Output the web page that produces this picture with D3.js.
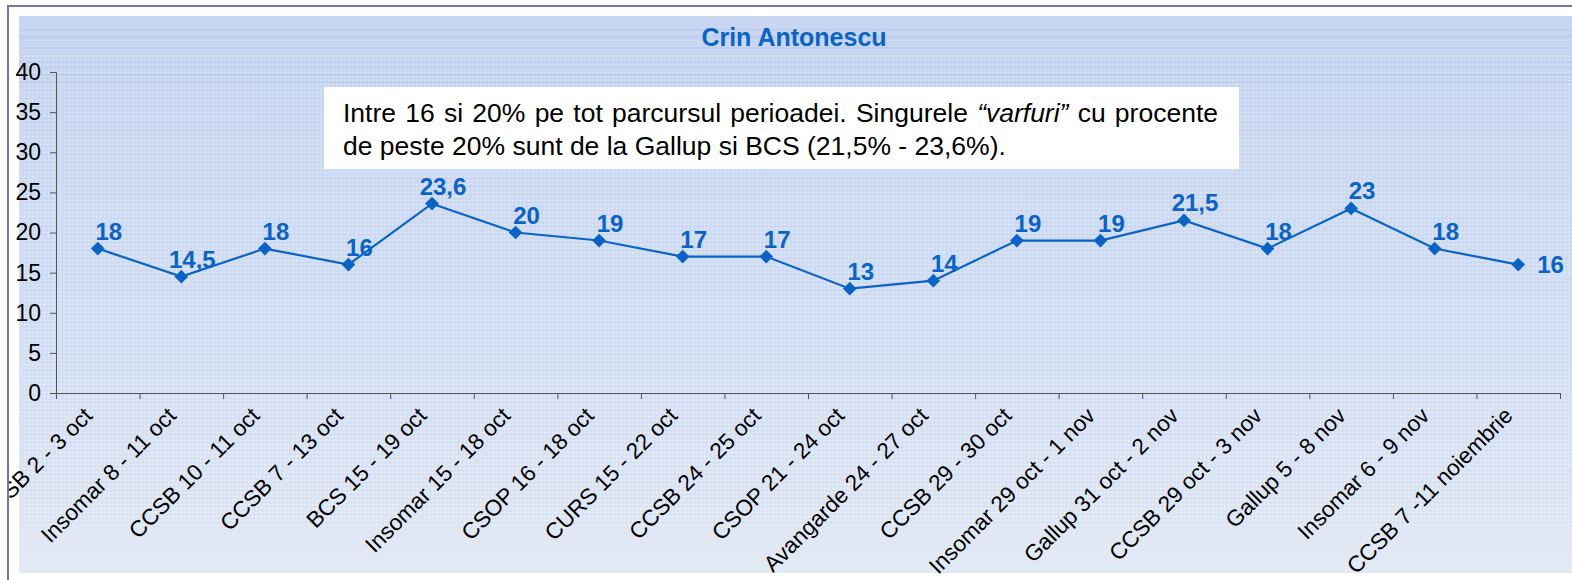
<!DOCTYPE html>
<html>
<head>
<meta charset="utf-8">
<script src="https://cdn.jsdelivr.net/npm/d3@7"></script>
<style>
  body { margin: 0; background: #fff; }
  svg { display: block; font-family: Arial, "Liberation Sans", sans-serif; }
</style>
</head>
<body>
<div id="chart"></div>
<script>
const categories = [
  "CCSB 2 - 3 oct", "Insomar 8 - 11 oct", "CCSB 10 - 11 oct", "CCSB 7 - 13 oct",
  "BCS 15 - 19 oct", "Insomar 15 - 18 oct", "CSOP 16 - 18 oct", "CURS 15 - 22 oct",
  "CCSB 24 - 25 oct", "CSOP 21 - 24 oct", "Avangarde 24 - 27 oct", "CCSB 29 - 30 oct",
  "Insomar 29 oct - 1 nov", "Gallup 31 oct - 2 nov", "CCSB 29 oct - 3 nov",
  "Gallup 5 - 8 nov", "Insomar 6 - 9 nov", "CCSB 7 -11 noiembrie"
];
const values = [18, 14.5, 18, 16, 23.6, 20, 19, 17, 17, 13, 14, 19, 19, 21.5, 18, 23, 18, 16];
const yTicks = [0, 5, 10, 15, 20, 25, 30, 35, 40];
const title = "Crin Antonescu";
const noteLine1 = ["Intre 16 si 20% pe tot parcursul perioadei. Singurele ", "“varfuri”", " cu procente"];
const noteLine2 = "de peste 20% sunt de la Gallup si BCS (21,5% - 23,6%).";

const width = 1572;
const height = 580;
const margin = { top: 72, right: 12, bottom: 187, left: 56 };
const blue = "#0b63c6";

const svg = d3.select("#chart").append("svg")
  .attr("width", width)
  .attr("height", height);

// background: gradient + dotted texture
const defs = svg.append("defs");
const grad = defs.append("linearGradient")
  .attr("id", "bg").attr("x1", 0).attr("y1", 0).attr("x2", 0).attr("y2", 1);
grad.append("stop").attr("offset", "0%").attr("stop-color", "#c8d6f1");
grad.append("stop").attr("offset", "60%").attr("stop-color", "#d5e0f4");
grad.append("stop").attr("offset", "100%").attr("stop-color", "#e3e9f4");

const dots = defs.append("pattern")
  .attr("id", "dots").attr("width", 4).attr("height", 4)
  .attr("patternUnits", "userSpaceOnUse");
dots.append("rect").attr("x", 0).attr("y", 0).attr("width", 1).attr("height", 1)
  .attr("fill", "#ffffff").attr("opacity", 0.45);
dots.append("rect").attr("x", 2).attr("y", 2).attr("width", 1).attr("height", 1)
  .attr("fill", "#a9bfe8").attr("opacity", 0.5);

defs.append("clipPath").attr("id", "frameClip")
  .append("rect").attr("x", 9).attr("y", 7).attr("width", width).attr("height", height);

svg.append("rect")
  .attr("x", 19).attr("y", 16)
  .attr("width", width - 19).attr("height", 557)
  .attr("fill", "url(#bg)");
svg.append("rect")
  .attr("x", 19).attr("y", 56)
  .attr("width", width - 19).attr("height", 470)
  .attr("fill", "url(#dots)");

// a few faint stripes in the top band
[30, 36, 38, 48, 62, 68, 75, 82].forEach(yy => {
  svg.append("line")
    .attr("x1", 19).attr("x2", width)
    .attr("y1", yy).attr("y2", yy)
    .attr("stroke", "#aec3ec").attr("stroke-width", 1).attr("opacity", 0.7);
});

const x = d3.scaleBand()
  .domain(categories)
  .range([margin.left, width - margin.right])
  .paddingInner(0).paddingOuter(0);

const xEdges = d3.scaleLinear()
  .domain([0, categories.length])
  .range([margin.left, width - margin.right]);

const y = d3.scaleLinear()
  .domain([0, 40])
  .range([height - margin.bottom, margin.top]);

// y axis
const yAxis = svg.append("g")
  .attr("transform", `translate(${margin.left},0)`)
  .call(d3.axisLeft(y).tickValues(yTicks).tickSize(6).tickPadding(9));
yAxis.selectAll("text")
  .style("font-size", "23px")
  .style("font-family", "Arial, 'Liberation Sans', sans-serif")
  .attr("fill", "#000");
yAxis.selectAll("line, path").attr("stroke", "#555");

// x axis (ticks on category boundaries)
const xAxis = svg.append("g")
  .attr("transform", `translate(0,${height - margin.bottom})`)
  .call(d3.axisBottom(xEdges).tickValues(d3.range(categories.length + 1))
    .tickSize(6).tickSizeOuter(0).tickFormat(""));
xAxis.selectAll("line, path").attr("stroke", "#555");

// rotated category labels
svg.append("g")
  .attr("clip-path", "url(#frameClip)")
  .selectAll("text")
  .data(categories)
  .join("text")
  .attr("transform", d => `translate(${x(d) + x.bandwidth() / 2 - 4},${height - margin.bottom + 24}) rotate(-45)`)
  .attr("text-anchor", "end")
  .style("font-size", "22.5px")
  .attr("fill", "#000")
  .text(d => d);

// outer frame (top and left edges visible)
svg.append("path")
  .attr("d", `M8,${height} L8,6 L${width},6`)
  .attr("fill", "none")
  .attr("stroke", "#7873a8")
  .attr("stroke-width", 2);

// title
svg.append("text")
  .attr("x", 794)
  .attr("y", 46)
  .attr("text-anchor", "middle")
  .style("font-size", "25px")
  .style("font-weight", "bold")
  .attr("fill", blue)
  .text(title);

// line + markers
const pts = categories.map((c, i) => ({ cat: c, value: values[i] }));

const line = d3.line()
  .x(d => x(d.cat) + x.bandwidth() / 2)
  .y(d => y(d.value));

svg.append("path")
  .datum(pts)
  .attr("fill", "none")
  .attr("stroke", blue)
  .attr("stroke-width", 2.2)
  .attr("d", line);

svg.append("g")
  .selectAll("path")
  .data(pts)
  .join("path")
  .attr("d", d3.symbol().type(d3.symbolDiamond2).size(120))
  .attr("transform", d => `translate(${x(d.cat) + x.bandwidth() / 2},${y(d.value)})`)
  .attr("fill", blue);

const fmt = v => String(v).replace(".", ",");
svg.append("g")
  .selectAll("text")
  .data(pts)
  .join("text")
  .attr("x", (d, i) => x(d.cat) + x.bandwidth() / 2 + (i === pts.length - 1 ? 19 : 11))
  .attr("y", (d, i) => y(d.value) + (i === pts.length - 1 ? 8 : -9))
  .attr("text-anchor", (d, i) => i === pts.length - 1 ? "start" : "middle")
  .style("font-size", "24px")
  .style("font-weight", "bold")
  .attr("fill", blue)
  .text(d => fmt(d.value));

// annotation box
svg.append("rect")
  .attr("x", 324).attr("y", 87)
  .attr("width", 915).attr("height", 82)
  .attr("fill", "#fff");

const note1 = svg.append("text")
  .attr("x", 343).attr("y", 122)
  .style("font-size", "26.5px")
  .attr("fill", "#000");
note1.append("tspan").text(noteLine1[0]);
note1.append("tspan").style("font-style", "italic").text(noteLine1[1]);
note1.append("tspan").text(noteLine1[2]);
// justify line 1 to the box width
const natural = note1.node().getComputedTextLength();
const spaces = noteLine1.join("").split(" ").length - 1;
note1.style("word-spacing", `${(875 - natural) / spaces}px`);

svg.append("text")
  .attr("x", 343).attr("y", 155)
  .style("font-size", "26.5px")
  .attr("fill", "#000")
  .text(noteLine2);
</script>
</body>
</html>
